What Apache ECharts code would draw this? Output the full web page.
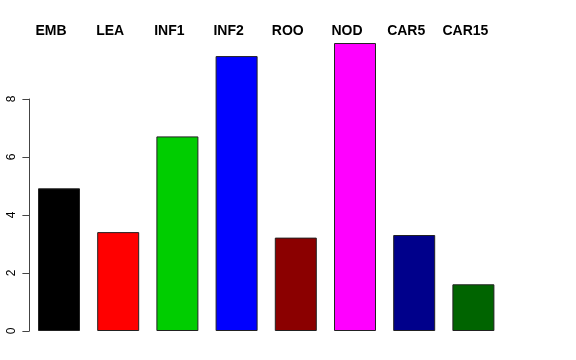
<!DOCTYPE html>
<html>
<head>
<meta charset="utf-8">
<script src="https://cdn.jsdelivr.net/npm/echarts@6/dist/echarts.min.js"></script>
<style>html,body{margin:0;padding:0;background:#fff;}#c{width:576px;height:360px;}</style>
</head>
<body>
<div id="c"></div>
<script>
const categories = ['EMB', 'LEA', 'INF1', 'INF2', 'ROO', 'NOD', 'CAR5', 'CAR15'];
const values = [4.92, 3.41, 6.71, 9.48, 3.22, 9.93, 3.31, 1.61];
const colors = ['#000000', '#FF0000', '#00CD00', '#0000FF', '#8B0000', '#FF00FF', '#00008B', '#006400'];
const yTicks = [0, 2, 4, 6, 8];

const chart = echarts.init(document.getElementById('c'));
chart.setOption({
  animation: false,
  backgroundColor: '#ffffff',
  grid: [
    { left: 29.4, right: 73, top: 41, bottom: 29 },
    { left: 29.4, right: 73, top: 99, bottom: 29 }
  ],
  xAxis: [
    {
      type: 'category', gridIndex: 0, data: categories, position: 'top',
      axisLine: { show: false }, axisTick: { show: false },
      axisLabel: {
        interval: 0, hideOverlap: false,
        color: '#000', fontFamily: 'Liberation Sans, Arial, sans-serif',
        fontWeight: 'bold', fontSize: 14, margin: 3, padding: [0, 16, 0, 0]
      }
    },
    { type: 'category', gridIndex: 1, data: categories, show: false }
  ],
  yAxis: [
    { type: 'value', gridIndex: 0, min: 0, max: 10, show: false },
    {
      type: 'value', gridIndex: 1, min: 0, max: 8, interval: 2,
      axisLine: { show: true, lineStyle: { color: '#444', width: 1 } },
      axisTick: { show: true, length: 7, lineStyle: { color: '#444' } },
      splitLine: { show: false },
      axisLabel: {
        rotate: 90, margin: 12, color: '#000', fontSize: 12,
        fontFamily: 'Liberation Sans, Arial, sans-serif'
      }
    }
  ],
  series: [{
    type: 'bar', xAxisIndex: 0, yAxisIndex: 0, barWidth: 42,
    data: values.map((v, i) => ({
      value: v,
      itemStyle: { color: colors[i], borderColor: '#222', borderWidth: 1 }
    }))
  }]
});
</script>
</body>
</html>
